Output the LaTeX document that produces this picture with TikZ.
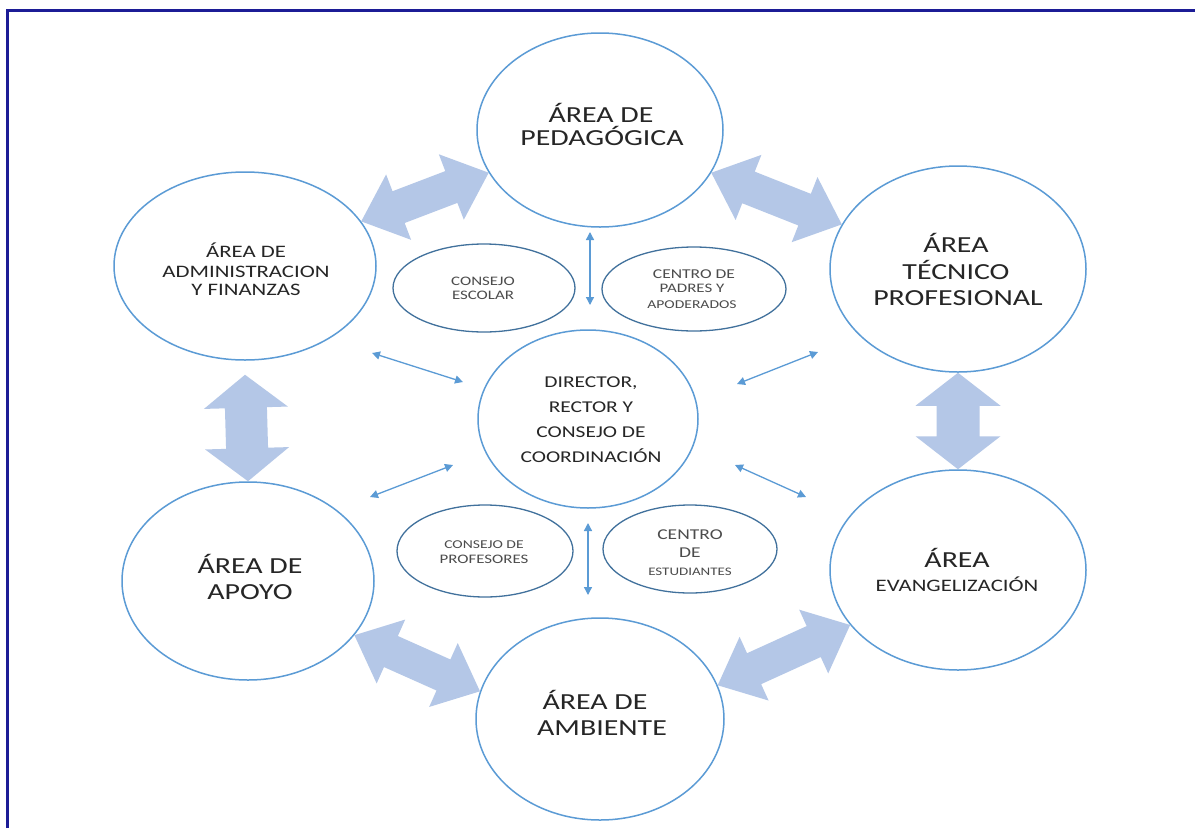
\documentclass[tikz,border=0pt]{standalone}
\usepackage{fontspec}
\setmainfont{Carlito}
\newfontfamily\wfont[FakeStretch=1.3]{Carlito}
\usetikzlibrary{shapes.geometric,arrows.meta,calc}
\definecolor{ringblue}{HTML}{5B9BD5}
\definecolor{smallring}{HTML}{41719C}
\definecolor{arrfill}{HTML}{B4C7E7}
\definecolor{framecol}{HTML}{1C1C96}
\pgfdeclarelayer{bg}
\pgfsetlayers{bg,main}
\tikzset{
  bigell/.style={draw=ringblue,line width=1.5pt,ellipse,inner sep=0pt},
  smallell/.style={draw=smallring,line width=1.3pt,ellipse,inner sep=0pt},
  bigtxt/.style={font=\wfont\fontsize{23}{25}\selectfont,align=center,text=black!85,inner sep=0pt},
  midtxt/.style={font=\wfont\fontsize{16.5}{25}\selectfont,align=center,text=black!85,inner sep=0pt},
  admtxt/.style={font=\wfont\fontsize{17.5}{20}\selectfont,align=center,text=black!85,inner sep=0pt},
  smtxt/.style={font=\wfont\fontsize{13}{14}\selectfont,align=center,text=black!70,inner sep=0pt,anchor=base},
  thinarrow/.style={ringblue,line width=1.3pt,
    {Triangle[length=8pt,width=8pt]}-{Triangle[length=8pt,width=8pt]}},
  framestyle/.style={framecol,line width=3pt}
}
% #1 start point, #2 end point, #3 half shaft width, #4 half head width, #5 head length
\newcommand\drawfat[5]{%
  \coordinate (fs) at (#1); \coordinate (fe) at (#2);
  \coordinate (fp) at ($(fs)!#5!(fe)$);
  \coordinate (fq) at ($(fe)!#5!(fs)$);
  \fill[arrfill] (fs) -- ($(fp)!#4!90:(fe)$) -- ($(fp)!#3!90:(fe)$)
    -- ($(fq)!#3!-90:(fs)$) -- ($(fq)!#4!-90:(fs)$) -- (fe)
    -- ($(fq)!#4!90:(fs)$) -- ($(fq)!#3!90:(fs)$)
    -- ($(fp)!#3!-90:(fe)$) -- ($(fp)!#4!-90:(fe)$) -- cycle;}
\begin{document}
\begin{tikzpicture}[x=1pt,y=-1pt]
\useasboundingbox (0,0) rectangle (1195,828);
\begin{pgfonlayer}{bg}
\fill[white] (0,0) rectangle (1195,828);
\end{pgfonlayer}
\draw[framestyle] (7,828) -- (7,10) -- (1195,10);

% big ellipses
\node[bigell,minimum width=246pt,minimum height=194pt] (ped) at (600,130) {};
\node[bigell,minimum width=262pt,minimum height=188pt] (adm) at (245,266) {};
\node[bigell,minimum width=256pt,minimum height=206pt] (tec) at (958,269) {};
\node[bigell,minimum width=220pt,minimum height=178pt] (dir) at (588,419) {};
\node[bigell,minimum width=252pt,minimum height=198pt] (apo) at (248,581) {};
\node[bigell,minimum width=256pt,minimum height=200pt] (eva) at (958,570) {};
\node[bigell,minimum width=248pt,minimum height=202pt] (amb) at (600,719) {};

% small ellipses
\node[smallell,minimum width=182pt,minimum height=88pt] (ces) at (484,288) {};
\node[smallell,minimum width=184pt,minimum height=84pt] (cpa) at (694,289) {};
\node[smallell,minimum width=176pt,minimum height=92pt] (cpr) at (485,551) {};
\node[smallell,minimum width=174pt,minimum height=88pt] (ces2) at (690,549) {};

% texts
\node[bigtxt,anchor=base] (tped1) at (601,122) {ÁREA DE};
\node[bigtxt,anchor=base] (tped2) at (602,145) {PEDAGÓGICA};
\node[admtxt,anchor=base] (tadm1) at (246,257) {ÁREA DE};
\node[admtxt,anchor=base] (tadm2) at (246,277) {ADMINISTRACION};
\node[admtxt,anchor=base] (tadm3) at (246,295) {Y FINANZAS};
\node[bigtxt,anchor=base] (ttec1) at (956,252) {ÁREA};
\node[bigtxt,anchor=base] (ttec2) at (956,279) {TÉCNICO};
\node[bigtxt,anchor=base] (ttec3) at (958,305) {PROFESIONAL};
\node[midtxt] (tdir) at (591,420) {DIRECTOR,\\RECTOR Y\\CONSEJO DE\\COORDINACIÓN};
\node[bigtxt,anchor=base] (tapo1) at (250,573) {ÁREA DE};
\node[bigtxt,anchor=base] (tapo2) at (250,599) {APOYO};
\node[bigtxt,anchor=base] (teva1) at (957,567) {ÁREA};
\node[admtxt,anchor=base] (teva2) at (957,591) {EVANGELIZACIÓN};
\node[bigtxt,anchor=base] (tamb1) at (595,709) {ÁREA DE};
\node[bigtxt,anchor=base] (tamb2) at (602,735) {AMBIENTE};

\node[smtxt] (tces1) at (483,285) {CONSEJO};
\node[smtxt] (tces2) at (483,299) {ESCOLAR};
\node[smtxt,font=\wfont\fontsize{13.5}{14}\selectfont] (tcpa1) at (694,278) {CENTRO DE};
\node[smtxt] (tcpa2) at (692,292) {PADRES Y};
\node[smtxt,font=\wfont\fontsize{12}{14}\selectfont] (tcpa3) at (692,308) {APODERADOS};
\node[smtxt,font=\wfont\fontsize{12}{14}\selectfont] (tcpr1) at (484,548) {CONSEJO DE};
\node[smtxt] (tcpr2) at (484,563) {PROFESORES};
\node[smtxt,font=\wfont\fontsize{15}{14}\selectfont] (tce1) at (690,539) {CENTRO};
\node[smtxt,font=\wfont\fontsize{15}{14}\selectfont] (tce2) at (690,557) {DE};
\node[smtxt,font=\wfont\fontsize{11.5}{14}\selectfont] (tce3) at (690,575) {ESTUDIANTES};

% fat arrows
\begin{pgfonlayer}{bg}
\drawfat{adm.21}{ped.201}{17pt}{35pt}{40pt}
\drawfat{ped.-21}{tec.159}{17pt}{35pt}{40pt}
\drawfat{$(adm.south)+(0,14)$}{apo.north}{21pt}{42pt}{33pt}
\drawfat{tec.south}{eva.north}{21.5pt}{42.5pt}{33pt}
\drawfat{apo.-27}{amb.167}{17pt}{35pt}{40pt}
\drawfat{amb.16}{eva.207}{17pt}{35pt}{40pt}
\end{pgfonlayer}

% thin arrows
\coordinate (a1) at (372,353); \coordinate (b1) at (463,382);
\coordinate (a2) at (737,384); \coordinate (b2) at (818,352);
\coordinate (a3) at (370,497); \coordinate (b3) at (453,465);
\coordinate (a4) at (735,465); \coordinate (b4) at (806,497);
\coordinate (a5) at (590,232); \coordinate (b5) at (590,305);
\coordinate (a6) at (588,523); \coordinate (b6) at (588,595);
\draw[thinarrow] (a1) -- (b1);
\draw[thinarrow] (a2) -- (b2);
\draw[thinarrow] (a3) -- (b3);
\draw[thinarrow] (a4) -- (b4);
\draw[thinarrow] (a5) -- (b5);
\draw[thinarrow] (a6) -- (b6);
\end{tikzpicture}
\end{document}
